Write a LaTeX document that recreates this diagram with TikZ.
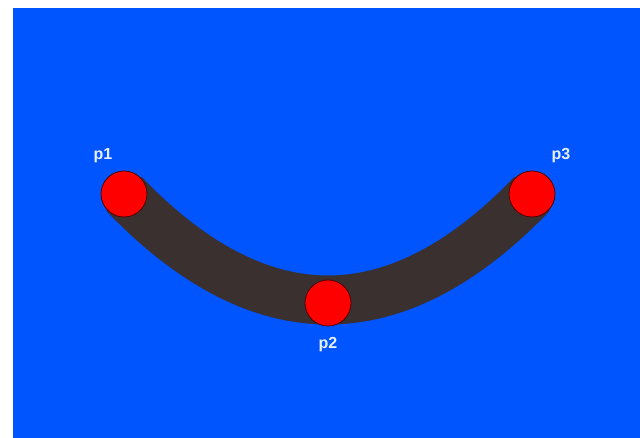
\documentclass[tikz,border=0pt]{standalone}
\usepackage{fontspec}
\setmainfont{Liberation Sans}
\definecolor{bgblue}{RGB}{0,85,255}
\definecolor{bandgray}{RGB}{58,48,48}
\definecolor{dotred}{RGB}{255,0,0}
\definecolor{dotrim}{RGB}{80,0,0}
\definecolor{labelwhite}{RGB}{232,240,255}
\tikzset{
  dot/.style={circle, fill=dotred, draw=dotrim, line width=0.8pt, minimum size=46pt, inner sep=0pt},
  ptlabel/.style={text=labelwhite, font=\bfseries\fontsize{16}{16}\selectfont, inner sep=0pt},
  band/.style={draw=bandgray, line width=49pt, line cap=butt}
}
\begin{document}
\begin{tikzpicture}[x=1pt,y=1pt]
  \useasboundingbox (0,0) rectangle (640,438);
  % background panel
  \fill[bgblue] (13,0) rectangle (640,430);
  % curve end points and control points
  \coordinate (a1) at (124,244);
  \coordinate (a2) at (328,135);
  \coordinate (a3) at (532,244);
  \coordinate (c1) at (260,102.7);
  \coordinate (c2) at (396,102.7);
  % thick band joining the outer points
  \draw[band] (a1) .. controls (c1) and (c2) .. (a3);
  % the three points
  \node[dot] (p1) at (a1) {};
  \node[dot] (p2) at (a2) {};
  \node[dot] (p3) at (a3) {};
  % labels
  \node[ptlabel] (l1) at (103,282) {p1};
  \node[ptlabel] (l2) at (328,93) {p2};
  \node[ptlabel] (l3) at (561,282) {p3};
\end{tikzpicture}
\end{document}
